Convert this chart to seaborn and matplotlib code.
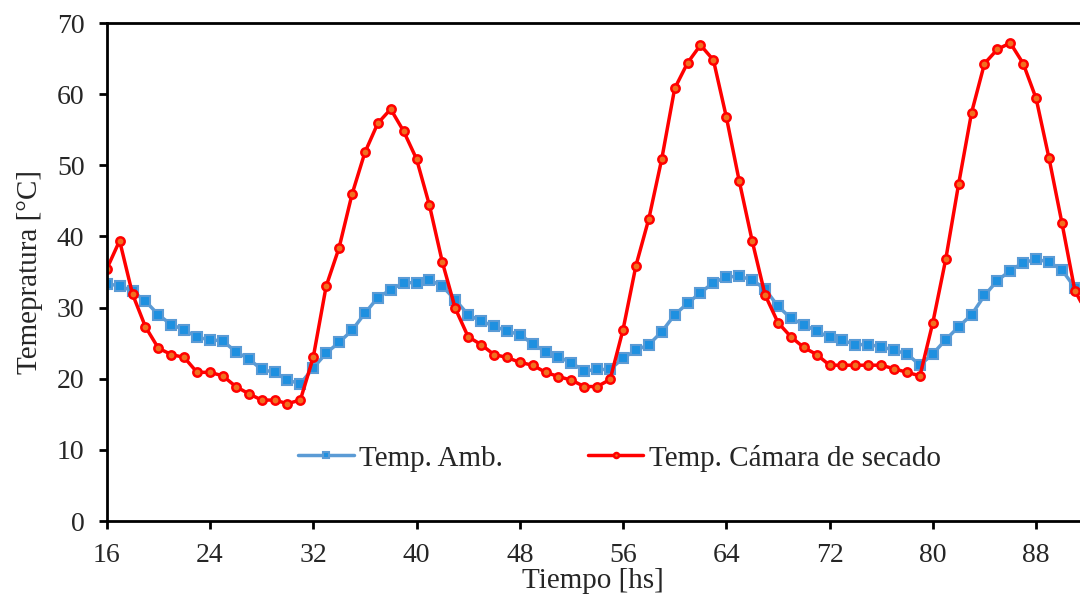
import pandas as pd
import matplotlib
matplotlib.use("Agg")
import matplotlib.pyplot as plt
import seaborn as sns

# Horas de medición (cada 1 h)
horas = list(range(16, 93))

# Temperatura ambiente [°C]
temp_amb = [33.3, 33.1, 32.3, 30.9, 29.0, 27.6, 26.9, 25.8, 25.5, 25.3,
            23.8, 22.8, 21.3, 20.9, 19.8, 19.3, 21.5, 23.6, 25.1, 26.8,
            29.2, 31.4, 32.5, 33.5, 33.5, 33.9, 33.0, 31.1, 29.0, 28.1,
            27.4, 26.7, 26.2, 24.9, 23.8, 23.1, 22.2, 21.1, 21.3, 21.3,
            22.9, 24.0, 24.8, 26.6, 29.0, 30.6, 32.1, 33.5, 34.3, 34.4,
            33.9, 32.6, 30.2, 28.5, 27.6, 26.7, 25.8, 25.4, 24.8, 24.8,
            24.5, 24.0, 23.5, 21.9, 23.5, 25.5, 27.3, 29.0, 31.7, 33.8,
            35.2, 36.3, 36.8, 36.4, 35.3, 32.8, 31.5]

# Temperatura en la cámara de secado [°C]
temp_camara = [35.4, 39.4, 31.9, 27.3, 24.3, 23.4, 23.0, 20.9, 20.9, 20.4,
               18.9, 17.9, 17.0, 17.0, 16.5, 17.0, 23.0, 33.0, 38.4, 45.9,
               51.8, 55.9, 57.9, 54.8, 50.9, 44.4, 36.4, 29.9, 25.9, 24.8,
               23.4, 23.0, 22.3, 21.9, 20.9, 20.3, 19.8, 18.9, 18.9, 19.9,
               26.9, 35.9, 42.5, 50.9, 60.8, 64.4, 66.9, 64.8, 56.8, 47.8,
               39.4, 31.8, 27.9, 25.9, 24.4, 23.4, 21.9, 21.9, 21.9, 21.9,
               21.9, 21.4, 20.9, 20.4, 27.9, 36.8, 47.4, 57.4, 64.3, 66.3,
               67.2, 64.3, 59.4, 51.0, 41.9, 32.4, 29.0]

df = pd.DataFrame({"Tiempo": horas, "amb": temp_amb, "cam": temp_camara})

sns.set_style("ticks")
plt.rcParams["font.family"] = ["Liberation Serif", "DejaVu Serif"]

fig = plt.figure(figsize=(10.8, 6.01), dpi=100)
ax = fig.add_axes([0.0988, 0.1331, 0.9012, 0.8286])

sns.lineplot(data=df, x="Tiempo", y="amb", ax=ax, color="#5B9BD5", lw=2.5,
             marker="s", markersize=7, markerfacecolor="#1E90E0",
             markeredgecolor="#5B9BD5", markeredgewidth=1.5,
             label="Temp. Amb.")
sns.lineplot(data=df, x="Tiempo", y="cam", ax=ax, color="#FF0000", lw=2.5,
             marker="o", markersize=6, markerfacecolor="#F07020",
             markeredgecolor="#FF0000", markeredgewidth=1.8,
             label="Temp. Cámara de secado")

ax.set_xlim(16, 91.4)
ax.set_ylim(0, 70)
ax.set_xticks(range(16, 92, 8))
ax.set_yticks(range(0, 71, 10))
ax.set_xlabel("Tiempo [hs]", fontsize=21, labelpad=0)
ax.set_ylabel("Temepratura [°C]", fontsize=21, labelpad=10)
ax.tick_params(axis="both", labelsize=20, width=2, length=6, color="black")
ax.tick_params(axis="x", pad=10)
ax.tick_params(axis="y", pad=10)

for s in ["left", "bottom", "top"]:
    ax.spines[s].set_linewidth(2)
    ax.spines[s].set_color("black")
ax.spines["right"].set_visible(False)

leg = ax.legend(loc="center", bbox_to_anchor=(0.527, 0.1265), ncol=2,
                frameon=False, fontsize=21, handlelength=1.9,
                columnspacing=2.9, handletextpad=0.2, markerscale=0.6)

fig.savefig("out.png", dpi=100)
